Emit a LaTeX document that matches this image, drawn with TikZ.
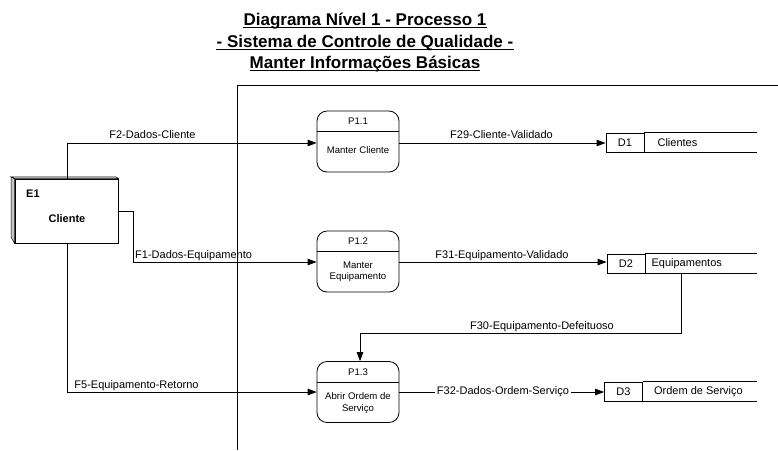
\documentclass[tikz,border=0pt]{standalone}
\usepackage{fontspec}
\setmainfont{Liberation Sans}
\usetikzlibrary{arrows.meta,calc}

\tikzset{
  line/.style={draw=black, line width=0.8pt},
  flow/.style={line, -{Triangle[length=9pt,width=6.5pt]}},
  titletext/.style={font=\fontsize{17}{20}\selectfont\bfseries, inner sep=0pt, anchor=base},
  flowlabel/.style={font=\fontsize{11}{13}\selectfont, inner sep=0pt, anchor=base},
  proc/.style={line, rounded corners=10pt, minimum width=82pt, minimum height=61pt, inner sep=0pt},
  proctext/.style={font=\fontsize{9.6}{11.5}\selectfont, align=center, inner sep=0pt},
  storeid/.style={line, minimum width=38pt, minimum height=19pt, inner sep=0pt,
    font=\fontsize{11}{13}\selectfont},
  storetext/.style={font=\fontsize{11}{13}\selectfont, inner sep=0pt, anchor=west},
}

\begin{document}
\begin{tikzpicture}[x=1pt, y=-1pt]
\useasboundingbox (0,0) rectangle (778,450);

% heading
\node[titletext] (t1) at (365,25) {Diagrama Nível 1 - Processo 1};
\node[titletext] (t2) at (365,47) {- Sistema de Controle de Qualidade -};
\node[titletext] (t3) at (365,68) {Manter Informações Básicas};
\foreach \t in {t1,t2,t3}
  \draw[line width=1.3pt] ($(\t.base west)+(0,2.8)$) -- ($(\t.base east)+(0,2.8)$);

% system boundary
\draw[line] (237,450) -- (237,85) -- (778,85);

% external entity E1
\node[line, minimum width=103pt, minimum height=64pt, inner sep=0pt] (e1) at (66.5,211) {};
\fill[gray!45, draw=black, line width=0.5pt] (11,177) -- (e1.north west) -- (e1.south west) -- (11,237) -- cycle;
\draw[draw=black, line width=0.6pt, fill=white] (11,177) -- (116,177) -- (e1.north east) -- (e1.north west) -- cycle;
\node[font=\fontsize{11}{13}\selectfont\bfseries, inner sep=0pt, anchor=base west] (e1id) at (26,197) {E1};
\node[font=\fontsize{11}{13}\selectfont\bfseries, inner sep=0pt] (e1name) at (67,219) {Cliente};

% processes
\node[proc] (p11) at (358,141.5) {};
\node[proc] (p12) at (358,261.5) {};
\node[proc] (p13) at (358,392) {};
\draw[line] (317,131) -- (399,131);
\draw[line] (317,251) -- (399,251);
\draw[line] (317,382) -- (399,382);
\node[proctext] (p11id) at (358,121) {P1.1};
\node[proctext] (p12id) at (358,241) {P1.2};
\node[proctext] (p13id) at (358,372) {P1.3};
\node[proctext] (p11n) at (358,150) {Manter Cliente};
\node[proctext] (p12n) at (358,271.5) {Manter\\Equipamento};
\node[proctext] (p13n) at (358,403) {Abrir Ordem de\\Serviço};

% data stores
\node[storeid] (d1) at (625,142.5) {D1};
\node[storeid] (d2) at (626,263.5) {D2};
\node[storeid] (d3) at (623.5,391.5) {D3};
\foreach \d in {d1,d2,d3} {
  \draw[line] (\d.north east) -- (\d.north east -| 757,0);
  \draw[line] (\d.south east) -- (\d.south east -| 757,0);
}
\node[storetext] (d1t) at ($(d1.east)+(13,0)$) {Clientes};
\node[storetext] (d2t) at ($(d2.east)+(6,0)$) {Equipamentos};
\node[storetext] (d3t) at ($(d3.east)+(11,0)$) {Ordem de Serviço};

% flows from the entity
\draw[flow] (e1.north -| 67,0) |- (p11.west |- 0,143);
\node[flowlabel] (f2) at (152.5,138) {F2-Dados-Cliente};
\draw[flow] (e1.east |- 0,211) -- (133,211) |- (p12.west |- 0,262);
\node[flowlabel, anchor=base west] (f1) at (135,258) {F1-Dados-Equipamento};
\draw[flow] (e1.south -| 67,0) |- (p13.west |- 0,392);
\node[flowlabel] (f5) at (136.5,388) {F5-Equipamento-Retorno};

% flows to the stores
\draw[flow] (p11.east |- 0,143) -- (d1.west |- 0,143);
\node[flowlabel] (f29) at (501.5,138) {F29-Cliente-Validado};
\draw[flow] (p12.east |- 0,262) -- (d2.west |- 0,262);
\node[flowlabel] (f31) at (502,258) {F31-Equipamento-Validado};
\draw[flow] (p13.east |- 0,392) -- (d3.west |- 0,392);
\node[flowlabel, fill=white, inner xsep=1.5pt, anchor=center] (f32) at (503,392) {F32-Dados-Ordem-Serviço};

% store back to process
\draw[flow] (d2.south -| 681,0) -- (681,333) -| (p13.north -| 360,0);
\node[flowlabel] (f30) at (542,329) {F30-Equipamento-Defeituoso};
\end{tikzpicture}
\end{document}
